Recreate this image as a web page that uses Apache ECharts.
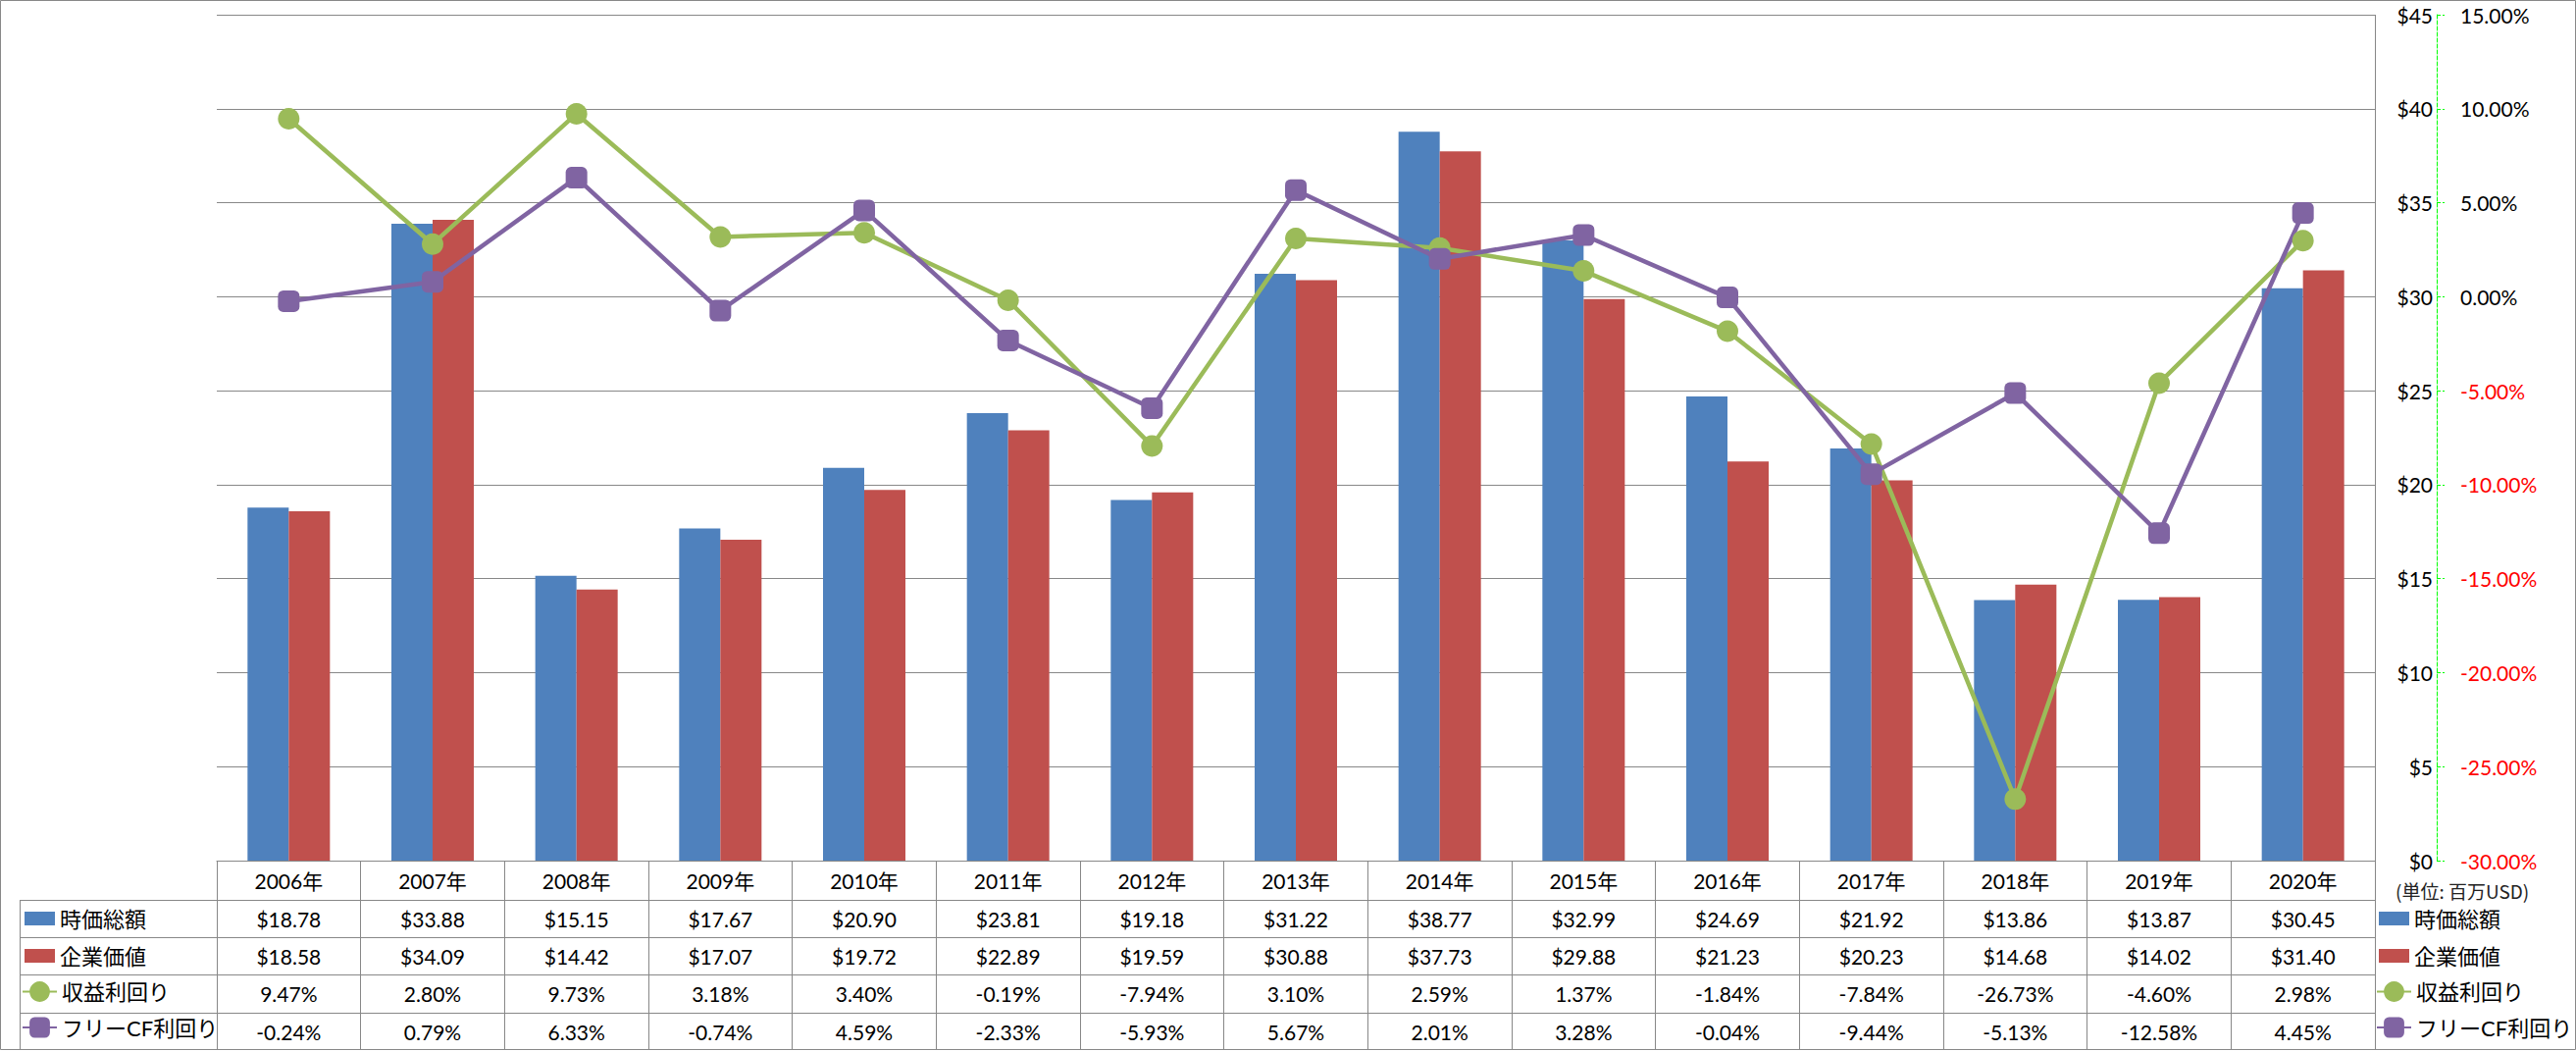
<!DOCTYPE html>
<html><head><meta charset="utf-8">
<script src="https://cdn.jsdelivr.net/npm/echarts@6/dist/echarts.min.js"></script>
<style>html,body{margin:0;padding:0;background:#fff}#c{width:2626px;height:1071px}</style>
</head><body><div id="c"></div>
<script>
// ---- data ----
const years = ['2006年','2007年','2008年','2009年','2010年','2011年','2012年','2013年','2014年','2015年','2016年','2017年','2018年','2019年','2020年'];
const marketCap = [18.78,33.88,15.15,17.67,20.90,23.81,19.18,31.22,38.77,32.99,24.69,21.92,13.86,13.87,30.45];
const enterpriseValue = [18.58,34.09,14.42,17.07,19.72,22.89,19.59,30.88,37.73,29.88,21.23,20.23,14.68,14.02,31.40];
const earningsYield = [9.47,2.80,9.73,3.18,3.40,-0.19,-7.94,3.10,2.59,1.37,-1.84,-7.84,-26.73,-4.60,2.98];
const fcfYield = [-0.24,0.79,6.33,-0.74,4.59,-2.33,-5.93,5.67,2.01,3.28,-0.04,-9.44,-5.13,-12.58,4.45];
const seriesNames = ['時価総額','企業価値','収益利回り','フリーCF利回り'];
const dollarAxis = {min:0, max:45, interval:5};
const pctAxis = {min:-30, max:15, interval:5};
const unitText = '(単位: 百万USD)';

// ---- style ----
const FONT = "Lato, 'Noto Sans CJK JP', sans-serif";
const JFONT = "'Noto Sans CJK JP', sans-serif";
const GRID = '#888888';
const BLUE = '#4F81BD', RED = '#C0504D', GREEN = '#9BBB59', PURPLE = '#8064A2';
const L = 221, R = 2421, T = 15, B = 877;
const rowYs = [877, 917, 955, 993, 1032, 1070];

const chart = echarts.init(document.getElementById('c'), null, {renderer: 'svg'});

const legendText = {fontSize: 22, fontFamily: FONT, color: '#000', lineHeight: 24};
function mkLegend(names, left, top, w, h, gap, icon) {
  const o = {data: names, orient: 'vertical', left: left, top: top, itemWidth: w, itemHeight: h,
    itemGap: gap, selectedMode: false, padding: 0, textStyle: legendText};
  if (icon) o.icon = icon;
  return o;
}

const option = {
  animation: false,
  backgroundColor: '#fff',
  grid: {left: L, right: 2626 - R, top: T, bottom: 1071 - B, containLabel: false, outerBoundsMode: 'none'},
  legend: [
    mkLegend(seriesNames.slice(0,2), 25, 924, 31, 14, 14, 'rect'),
    mkLegend(seriesNames.slice(2), 22, 998.5, 35, 26, 12.5),
    mkLegend(seriesNames.slice(0,2), 2425, 924, 31, 14, 14, 'rect'),
    mkLegend(seriesNames.slice(2), 2422, 998.5, 35, 26, 12.5)
  ],
  xAxis: {
    type: 'category', data: years, boundaryGap: true,
    axisLine: {show: true, lineStyle: {color: GRID, width: 1}},
    axisTick: {show: true, alignWithLabel: false, interval: 0, length: 1070 - B, lineStyle: {color: GRID, width: 1}},
    axisLabel: {interval: 0, margin: 10, fontSize: 21, fontFamily: FONT, color: '#000'},
    splitLine: {show: false}
  },
  yAxis: [
    {
      type: 'value', min: dollarAxis.min, max: dollarAxis.max, interval: dollarAxis.interval,
      position: 'right', offset: 63,
      axisLine: {show: false}, axisTick: {show: false},
      axisLabel: {inside: true, margin: 4, fontSize: 21, fontFamily: FONT, color: '#000',
        showMinLabel: true, showMaxLabel: true, formatter: v => '$' + v},
      splitLine: {show: true, lineStyle: {color: GRID, width: 1, type: 'solid'}}
    },
    {
      type: 'value', min: pctAxis.min, max: pctAxis.max, interval: pctAxis.interval,
      position: 'right', offset: 63,
      axisLine: {show: true, lineStyle: {color: '#00FF00', width: 1, type: 'dashed'}},
      axisTick: {show: true, inside: false, length: 8, lineStyle: {color: '#00FF00', width: 1, type: 'dashed'}},
      axisLabel: {margin: 24, fontSize: 21, fontFamily: FONT, showMinLabel: true, showMaxLabel: true,
        formatter: v => Number(v).toFixed(2) + '%',
        color: v => Number(v) < 0 ? '#FF0000' : '#000000'},
      splitLine: {show: false}
    }
  ],
  series: [
    {name: seriesNames[0], type: 'bar', data: marketCap, barWidth: 42, barGap: '0%', yAxisIndex: 0,
      itemStyle: {color: BLUE}},
    {name: seriesNames[1], type: 'bar', data: enterpriseValue, barWidth: 42, barGap: '0%', yAxisIndex: 0,
      itemStyle: {color: RED}},
    {name: seriesNames[2], type: 'line', data: earningsYield, yAxisIndex: 1,
      symbol: 'circle', symbolSize: 22, lineStyle: {color: GREEN, width: 4.5},
      itemStyle: {color: GREEN}},
    {name: seriesNames[3], type: 'line', data: fcfYield, yAxisIndex: 1,
      symbol: 'roundRect', symbolSize: 22, lineStyle: {color: PURPLE, width: 4.5},
      itemStyle: {color: PURPLE}}
  ]
};
chart.setOption(option);

// ---- data table & frame ----
const g = [];
const rows = [
  marketCap.map(v => '$' + v.toFixed(2)),
  enterpriseValue.map(v => '$' + v.toFixed(2)),
  earningsYield.map(v => v.toFixed(2) + '%'),
  fcfYield.map(v => v.toFixed(2) + '%')
];
rows.forEach((r, ri) => {
  const yc = (rowYs[ri + 1] + rowYs[ri + 2]) / 2;
  r.forEach((t, i) => {
    const x = chart.convertToPixel({xAxisIndex: 0}, i);
    g.push({type: 'text', x: x, y: yc, silent: true,
      style: {text: t, fontSize: 21, fontFamily: FONT, fill: '#000', align: 'center', verticalAlign: 'middle'}});
  });
});
function hline(y, x1, x2) { g.push({type: 'line', silent: true, shape: {x1: x1, y1: y + 0.5, x2: x2, y2: y + 0.5}, style: {stroke: GRID, lineWidth: 1}}); }
function vline(x, y1, y2) { g.push({type: 'line', silent: true, shape: {x1: x + 0.5, y1: y1, x2: x + 0.5, y2: y2}, style: {stroke: GRID, lineWidth: 1}}); }
for (let k = 1; k <= 4; k++) hline(rowYs[k], 20, R);
vline(20, rowYs[1], 1070);
vline(R, T, B);
g.push({type: 'rect', silent: true, shape: {x: 0.5, y: 0.5, width: 2625, height: 1069},
  style: {fill: null, stroke: GRID, lineWidth: 1}});
g.push({type: 'text', x: 2442, y: 907, silent: true,
  style: {text: unitText, fontSize: 19, fontFamily: JFONT, fill: '#222', align: 'left', verticalAlign: 'middle'}});
chart.setOption({graphic: g});
</script></body></html>
